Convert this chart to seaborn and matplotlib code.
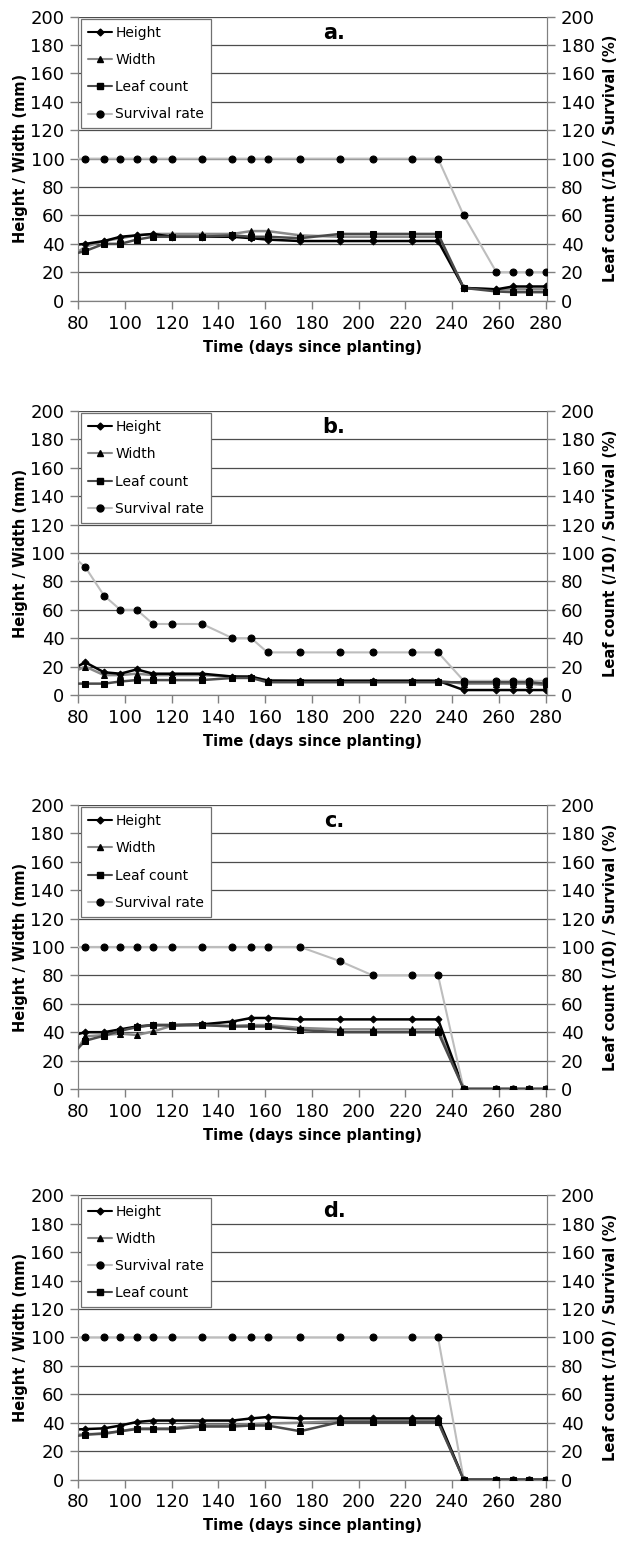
import numpy as np
import seaborn as sns
import matplotlib.pyplot as plt
from matplotlib.lines import Line2D

# sampling days (first reading at day 76 sits just left of the axis)
days = [76, 83, 91, 98, 105, 112, 120, 133, 146, 154, 161, 175, 192, 206, 223, 234,
        245, 259, 266, 273, 280]

# panel a
height_a = [39, 40, 42, 45, 46, 47, 45, 45, 45, 44, 43, 42, 42, 42, 42, 42, 9, 8, 10, 10, 10]
width_a = [30, 38, 42, 44, 46, 47, 47, 47, 47, 49, 49, 46, 45, 45, 45, 45, 9, 8, 8, 8, 8]
leaf_a = [32, 35, 40, 40, 43, 45, 45, 45, 46, 45, 45, 44, 47, 47, 47, 47, 9, 6.5, 6, 6, 6]
surv_a = [100, 100, 100, 100, 100, 100, 100, 100, 100, 100, 100, 100, 100, 100, 100, 100,
          60, 20, 20, 20, 20]

# panel b
height_b = [17, 23, 16, 15, 18, 15, 15, 15, 13, 13, 10, 10, 10, 10, 10, 10, 3.5, 3.5, 3.5, 3.5, 3.5]
width_b = [15, 20, 14, 14, 15, 14, 14, 14, 13, 12.5, 10.5, 10, 10, 10, 10, 10, 8, 8, 8, 8, 7]
leaf_b = [8, 8, 8, 9.5, 10.5, 10.5, 10.5, 10.5, 12, 12, 9, 9, 9, 9, 9, 9, 9, 9, 9, 9, 8]
surv_b = [100, 90, 70, 60, 60, 50, 50, 50, 40, 40, 30, 30, 30, 30, 30, 30, 10, 10, 10, 10, 10]

# panel c
height_c = [37, 40, 40, 42, 44, 45, 45, 45.5, 47.5, 50, 50, 49, 49, 49, 49, 49, 0, 0, 0, 0, 0]
width_c = [18, 37, 38, 39, 38, 40.5, 44.5, 45, 44.5, 45, 45, 43, 42, 42, 42, 42, 0, 0, 0, 0, 0]
leaf_c = [22, 34, 37.5, 41, 43.5, 45, 45, 45, 44, 44, 44, 41.5, 40, 40, 40, 40, 0, 0, 0, 0, 0]
surv_c = [100, 100, 100, 100, 100, 100, 100, 100, 100, 100, 100, 100, 90, 80, 80, 80,
          0, 0, 0, 0, 0]

# panel d
height_d = [35, 35.5, 36, 38, 40.5, 41.5, 41.5, 41.5, 41.5, 43, 44, 43, 43, 43, 43, 43, 0, 0, 0, 0, 0]
width_d = [31, 32, 32, 34, 36, 36, 36, 38.5, 38.5, 39, 39.5, 40, 41, 41, 41, 41, 0, 0, 0, 0, 0]
leaf_d = [30, 31.5, 32.5, 34, 35.5, 35.5, 35.5, 37.3, 37.3, 38, 38, 34, 40.5, 40.5, 40.5, 40.5,
          0, 0, 0, 0, 0]
surv_d = [100, 100, 100, 100, 100, 100, 100, 100, 100, 100, 100, 100, 100, 100, 100, 100,
          0, 0, 0, 0, 0]

panels = [
    ("a.", height_a, width_a, leaf_a, surv_a, ["Height", "Width", "Leaf count", "Survival rate"]),
    ("b.", height_b, width_b, leaf_b, surv_b, ["Height", "Width", "Leaf count", "Survival rate"]),
    ("c.", height_c, width_c, leaf_c, surv_c, ["Height", "Width", "Leaf count", "Survival rate"]),
    ("d.", height_d, width_d, leaf_d, surv_d, ["Height", "Width", "Survival rate", "Leaf count"]),
]

sns.set_style("white")
plt.rcParams["font.family"] = ["DejaVu Sans"]
plt.rcParams["text.color"] = "black"
plt.rcParams["axes.labelcolor"] = "black"
plt.rcParams["xtick.labelcolor"] = "black"
plt.rcParams["ytick.labelcolor"] = "black"

styles = {
    "Height": dict(color="black", marker="D", ms=3.5, lw=1.8, zorder=5),
    "Width": dict(color="#8a8a8a", marker="^", ms=5, lw=1.8, zorder=4),
    "Leaf count": dict(color="#4a4a4a", marker="s", ms=5, lw=1.8, zorder=6),
    "Survival rate": dict(color="#bdbdbd", marker="o", ms=5, lw=1.5, zorder=3),
}

fig = plt.figure(figsize=(6.28, 15.44), dpi=100)
bottoms = [0.80525, 0.54987, 0.29469, 0.04177]
axes_left, axes_w, axes_h = 0.1247, 0.7458, 0.1840

for (tag, h, w, lc, s, order), bot in zip(panels, bottoms):
    ax = fig.add_axes([axes_left, bot, axes_w, axes_h])
    ax2 = ax.twinx()
    series = {"Height": (ax, h), "Width": (ax, w), "Leaf count": (ax2, lc), "Survival rate": (ax2, s)}
    for name in order:
        target, vals = series[name]
        st = styles[name]
        sns.lineplot(x=days, y=vals, ax=target, color=st["color"], lw=st["lw"],
                     marker=st["marker"], markersize=st["ms"], markerfacecolor="black",
                     markeredgecolor="black", zorder=st["zorder"], legend=False)

    for a in (ax, ax2):
        a.set_xlim(80, 280.5)
        a.set_ylim(0, 200)
        a.set_yticks(np.arange(0, 201, 20))
        for sp in a.spines.values():
            sp.set_color("#808080")
        a.spines["top"].set_visible(False)
    ax.set_xticks(np.arange(80, 281, 20))
    ax.yaxis.grid(True, color="#4d4d4d", lw=0.9)
    ax.set_axisbelow(True)
    ax.tick_params(axis="both", direction="out", length=6, width=1, color="#808080",
                   labelsize=13, pad=4, left=True, bottom=True)
    ax2.tick_params(axis="y", direction="out", length=6, width=1, color="#808080",
                    labelsize=13, pad=4, right=True)
    ax.set_xlabel("Time (days since planting)", fontsize=10.5, fontweight="bold", labelpad=5)
    ax.set_ylabel("Height / Width (mm)", fontsize=10.5, fontweight="bold", labelpad=2)
    ax2.set_ylabel("Leaf count (/10) / Survival (%)", fontsize=10.5, fontweight="bold", labelpad=6)
    ax2.text(0.546, 0.944, tag, transform=ax.transAxes, fontsize=15, fontweight="bold",
             ha="center", va="center")

    handles = [Line2D([], [], color=styles[n]["color"], lw=1.5, marker=styles[n]["marker"],
                      ms=styles[n]["ms"], mfc="black", mec="black") for n in order]
    leg = ax2.legend(handles, order, loc="upper left", bbox_to_anchor=(0.006, 0.992),
                     fontsize=10, frameon=True, fancybox=False, framealpha=1,
                     edgecolor="#707070", handlelength=1.7, handletextpad=0.25,
                     labelspacing=0.95, borderpad=0.5, borderaxespad=0)
    leg.get_frame().set_linewidth(0.9)

fig.savefig("out.png", dpi=100)
